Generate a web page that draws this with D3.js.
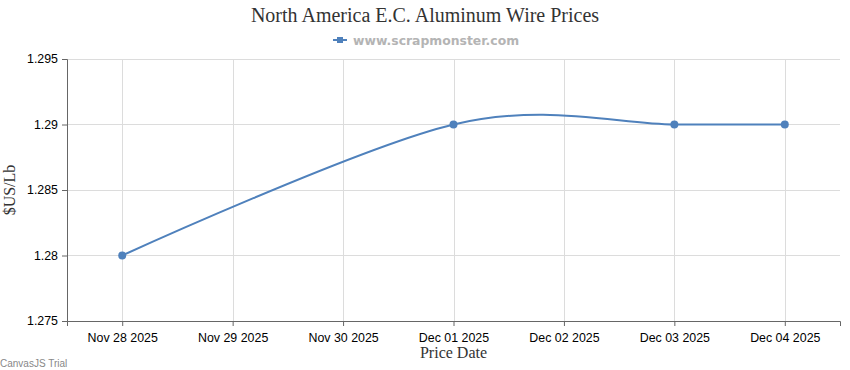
<!DOCTYPE html>
<html>
<head>
<meta charset="utf-8">
<script src="https://cdn.jsdelivr.net/npm/d3@7"></script>
<style>
  body { margin: 0; background: #fff; }
  svg { display: block; }
</style>
</head>
<body>
<svg id="chart" width="850" height="370"></svg>
<script>
// values
var dates = ["2025-11-28", "2025-12-01", "2025-12-03", "2025-12-04"];
var prices = [1.28, 1.29, 1.29, 1.29];
var tickDates = ["2025-11-28", "2025-11-29", "2025-11-30", "2025-12-01", "2025-12-02", "2025-12-03", "2025-12-04"];
var yTicks = [1.275, 1.28, 1.285, 1.29, 1.295];

var parse = d3.timeParse("%Y-%m-%d");
var data = dates.map(function(d, i) { return { date: parse(d), value: prices[i] }; });

var svg = d3.select("#chart");
var margin = { left: 67, right: 10, top: 59, bottom: 49 };
var width = 850 - margin.left - margin.right,
    height = 370 - margin.top - margin.bottom;

var x = d3.scaleTime()
    .domain([d3.timeHour.offset(parse(tickDates[0]), -12), d3.timeHour.offset(parse(tickDates[tickDates.length - 1]), 12)])
    .range([margin.left, margin.left + width]);
var y = d3.scaleLinear()
    .domain([1.275, 1.295])
    .range([margin.top + height, margin.top]);

// grid
svg.append("g")
  .selectAll("line.h")
  .data(yTicks)
  .enter().append("line")
    .attr("x1", margin.left).attr("x2", margin.left + width)
    .attr("y1", function(d) { return Math.round(y(d)) + 0.5; })
    .attr("y2", function(d) { return Math.round(y(d)) + 0.5; })
    .attr("stroke", "#dcdcdc");
svg.append("g")
  .selectAll("line.v")
  .data(tickDates.map(parse))
  .enter().append("line")
    .attr("y1", margin.top).attr("y2", margin.top + height)
    .attr("x1", function(d) { return Math.round(x(d)) + 0.5; })
    .attr("x2", function(d) { return Math.round(x(d)) + 0.5; })
    .attr("stroke", "#dcdcdc");

var fmt = d3.timeFormat("%b %d %Y");

// x axis
var xAxis = svg.append("g")
    .attr("transform", "translate(0," + (margin.top + height) + ")")
    .call(d3.axisBottom(x).tickValues(tickDates.map(parse)).tickFormat(fmt).tickSizeOuter(0).tickSize(5));
xAxis.select(".domain").attr("stroke", "#666");
xAxis.selectAll(".tick line").attr("stroke", "#666");
xAxis.selectAll("text")
    .attr("font-family", "'Liberation Sans', Arial, sans-serif")
    .attr("font-size", 12.4).attr("fill", "#000").attr("dy", "1.05em");

// y axis
var yAxis = svg.append("g")
    .attr("transform", "translate(" + margin.left + ",0)")
    .call(d3.axisLeft(y).tickValues(yTicks).tickFormat(function(d) { return d3.format("")(+d.toFixed(3)); }).tickSizeOuter(0).tickSize(5));
yAxis.select(".domain").attr("stroke", "#666");
yAxis.selectAll(".tick line").attr("stroke", "#666");
yAxis.selectAll("text")
    .attr("font-family", "'Liberation Sans', Arial, sans-serif")
    .attr("font-size", 12.4).attr("fill", "#000").attr("x", -9);

// series
var line = d3.line()
    .x(function(d) { return x(d.date); })
    .y(function(d) { return y(d.value); })
    .curve(d3.curveCardinal.tension(0));
svg.append("path")
    .datum(data)
    .attr("d", line)
    .attr("fill", "none")
    .attr("stroke", "#4F81BC")
    .attr("stroke-width", 2);
svg.append("g")
  .selectAll("circle")
  .data(data)
  .enter().append("circle")
    .attr("cx", function(d) { return x(d.date); })
    .attr("cy", function(d) { return y(d.value); })
    .attr("r", 4)
    .attr("fill", "#4F81BC");

// titles
svg.append("text")
    .attr("x", 425).attr("y", 22)
    .attr("text-anchor", "middle")
    .attr("font-family", "'Liberation Serif', 'Times New Roman', serif")
    .attr("font-size", 20).attr("fill", "#333")
    .text("North America E.C. Aluminum Wire Prices");

var legend = svg.append("g").attr("transform", "translate(333,40)");
legend.append("line").attr("x1", 0).attr("x2", 14).attr("stroke", "#4F81BC").attr("stroke-width", 2);
legend.append("rect").attr("x", 4).attr("y", -3).attr("width", 6).attr("height", 6).attr("fill", "#4F81BC");
legend.append("text")
    .attr("x", 20).attr("y", 4.5)
    .attr("font-family", "'DejaVu Sans', Verdana, sans-serif")
    .attr("font-weight", "bold")
    .attr("font-size", 12.4).attr("fill", "#b4b4b4")
    .text("www.scrapmonster.com");

svg.append("text")
    .attr("transform", "translate(15," + (margin.top + height / 2) + ") rotate(-90)")
    .attr("text-anchor", "middle")
    .attr("font-family", "'Liberation Serif', 'Times New Roman', serif")
    .attr("font-size", 16).attr("fill", "#333")
    .text("$US/Lb");

svg.append("text")
    .attr("x", margin.left + width / 2).attr("y", 358)
    .attr("text-anchor", "middle")
    .attr("font-family", "'Liberation Serif', 'Times New Roman', serif")
    .attr("font-size", 16).attr("fill", "#333")
    .text("Price Date");

svg.append("text")
    .attr("x", 0).attr("y", 367)
    .attr("font-family", "'Liberation Sans', Arial, sans-serif")
    .attr("font-size", 10).attr("fill", "#888")
    .text("CanvasJS Trial");
</script>
</body>
</html>
